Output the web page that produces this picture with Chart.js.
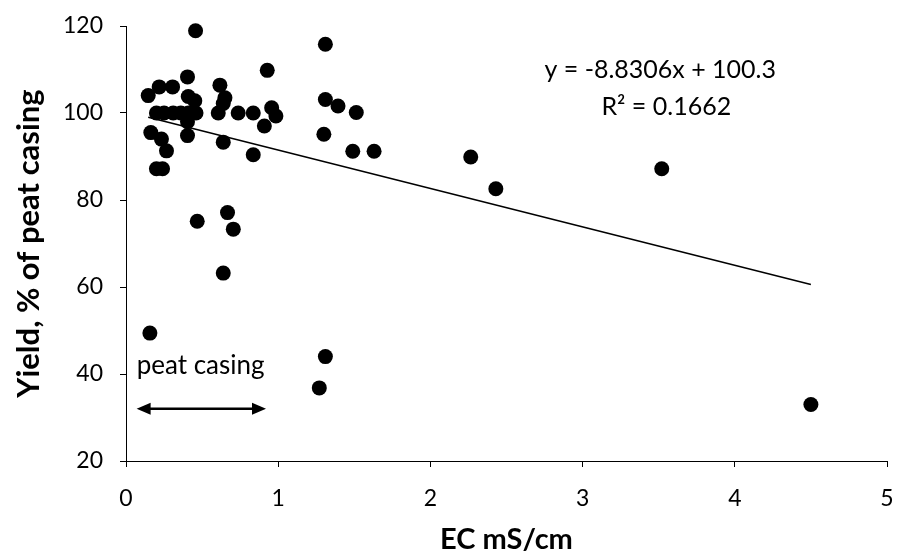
<!DOCTYPE html>
<html>
<head>
<meta charset="utf-8">
<script src="https://cdn.jsdelivr.net/npm/chart.js@4/dist/chart.umd.min.js"></script>
<style>
  html, body { margin: 0; padding: 0; background: #fff; }
  #wrap { width: 900px; height: 557px; position: relative; }
</style>
</head>
<body>
<div id="wrap"><canvas id="chart"></canvas></div>
<script>
// EC (mS/cm) and yield (% of peat casing)
const ecValues = [
  0.457, 0.928, 0.404, 0.218, 0.306, 0.617, 0.146, 0.409, 0.452, 0.650,
  0.639, 0.957, 0.200, 0.250, 0.310, 0.360, 0.410, 0.460, 0.606, 0.737,
  0.836, 0.985, 0.909, 0.163, 0.404, 0.404, 0.233, 0.639, 0.266, 0.836,
  0.200, 0.240, 0.468, 0.667, 0.705, 0.639, 0.157, 1.310, 1.310, 1.393,
  1.513, 1.300, 1.490, 1.630, 1.310, 1.270, 2.265, 2.430, 3.520, 4.500
];
const yieldValues = [
  118.9, 109.8, 108.3, 106.0, 106.0, 106.4, 104.0, 103.8, 102.8, 103.5,
  102.2, 101.2, 100.0, 100.0, 100.0, 100.0, 100.0, 100.0, 100.0, 100.0,
  100.0, 99.3, 97.0, 95.5, 94.8, 98.0, 94.0, 93.3, 91.3, 90.4,
  87.2, 87.2, 75.1, 77.1, 73.3, 63.2, 49.4, 115.8, 103.1, 101.6,
  100.1, 95.1, 91.2, 91.2, 44.0, 36.8, 89.9, 82.6, 87.2, 33.0
];

// Trendline as shown on the chart
const trendSlope = -8.8306;
const trendIntercept = 100.3;
const equationText = 'y = -8.8306x + 100.3';
const rSquaredText = 'R\u00b2 = 0.1662';
const rangeLabel = 'peat casing';
const rangeStart = 0.07;
const rangeEnd = 0.92;

// Axes
const xTitle = 'EC mS/cm';
const yTitle = 'Yield, % of peat casing';
const xMin = 0, xMax = 5, xStep = 1;
const yMin = 20, yMax = 120, yStep = 20;

const fontFamily = 'Lato, "Open Sans", sans-serif';

const points = ecValues.map((x, i) => ({ x, y: yieldValues[i] }));
const trendXMin = Math.min(...ecValues);
const trendXMax = Math.max(...ecValues);
const trendPoints = [trendXMin, trendXMax].map(x => ({ x, y: trendSlope * x + trendIntercept }));

// Draws the equation text and the "peat casing" range arrow
const annotationPlugin = {
  id: 'annotations',
  afterDatasetsDraw(chart) {
    const { ctx, scales: { x, y } } = chart;
    ctx.save();
    ctx.fillStyle = '#000';
    ctx.strokeStyle = '#000';
    ctx.font = `25px ${fontFamily}`;

    ctx.textAlign = 'center';
    ctx.textBaseline = 'middle';
    ctx.fillText(equationText, x.getPixelForValue(3.51), y.getPixelForValue(109.9));
    ctx.fillText(rSquaredText, x.getPixelForValue(3.55), y.getPixelForValue(101.3));

    ctx.textAlign = 'left';
    ctx.textBaseline = 'alphabetic';
    ctx.font = `26px ${fontFamily}`;
    ctx.fillText(rangeLabel, x.getPixelForValue(rangeStart), y.getPixelForValue(40.0));

    // double-headed arrow
    const ax1 = x.getPixelForValue(rangeStart);
    const ax2 = x.getPixelForValue(rangeEnd);
    const ay = y.getPixelForValue(32);
    const head = 14, half = 6;
    ctx.lineWidth = 2.5;
    ctx.beginPath();
    ctx.moveTo(ax1 + head - 2, ay);
    ctx.lineTo(ax2 - head + 2, ay);
    ctx.stroke();
    ctx.beginPath();
    ctx.moveTo(ax1, ay);
    ctx.lineTo(ax1 + head, ay - half);
    ctx.lineTo(ax1 + head, ay + half);
    ctx.closePath();
    ctx.fill();
    ctx.beginPath();
    ctx.moveTo(ax2, ay);
    ctx.lineTo(ax2 - head, ay - half);
    ctx.lineTo(ax2 - head, ay + half);
    ctx.closePath();
    ctx.fill();
    ctx.restore();
  }
};

const axisCommon = {
  type: 'linear',
  grid: {
    drawOnChartArea: false,
    drawTicks: true,
    tickLength: 6,
    color: '#000',
    lineWidth: 1
  },
  border: { color: '#000', width: 1 }
};

// Fix the box size and drop the label overhang so the plot area lands where the original has it
const fixBox = (prop, size) => s => {
  s[prop] = size;
  s.paddingTop = 0;
  s.paddingBottom = 0;
  s.paddingLeft = 0;
  s.paddingRight = 0;
};

new Chart(document.getElementById('chart').getContext('2d'), {
  type: 'scatter',
  data: {
    datasets: [
      {
        label: 'Yield',
        data: points,
        backgroundColor: '#000',
        borderWidth: 0,
        pointRadius: 7.5,
        pointHoverRadius: 7.5,
        clip: false
      },
      {
        type: 'line',
        label: 'Trend',
        data: trendPoints,
        borderColor: '#000',
        borderWidth: 1.5,
        pointRadius: 0,
        fill: false,
        tension: 0
      }
    ]
  },
  options: {
    responsive: true,
    maintainAspectRatio: false,
    animation: false,
    layout: { padding: { top: 26, right: 13, left: 0, bottom: 0 } },
    plugins: {
      legend: { display: false },
      tooltip: { enabled: false }
    },
    scales: {
      x: {
        ...axisCommon,
        min: xMin,
        max: xMax,
        ticks: { stepSize: xStep, padding: 18, color: '#000', font: { family: fontFamily, size: 23 } },
        title: {
          display: true,
          text: xTitle,
          color: '#000',
          font: { family: fontFamily, size: 29, weight: 'bold' },
          padding: { top: 0, bottom: 0 }
        },
        afterFit: fixBox('height', 96)
      },
      y: {
        ...axisCommon,
        min: yMin,
        max: yMax,
        ticks: { stepSize: yStep, padding: 17, color: '#000', font: { family: fontFamily, size: 23 } },
        title: {
          display: true,
          text: yTitle,
          color: '#000',
          font: { family: fontFamily, size: 31, weight: 'bold' },
          padding: { top: 10, bottom: 0 }
        },
        afterFit: fixBox('width', 126)
      }
    }
  },
  plugins: [annotationPlugin]
});
</script>
</body>
</html>
